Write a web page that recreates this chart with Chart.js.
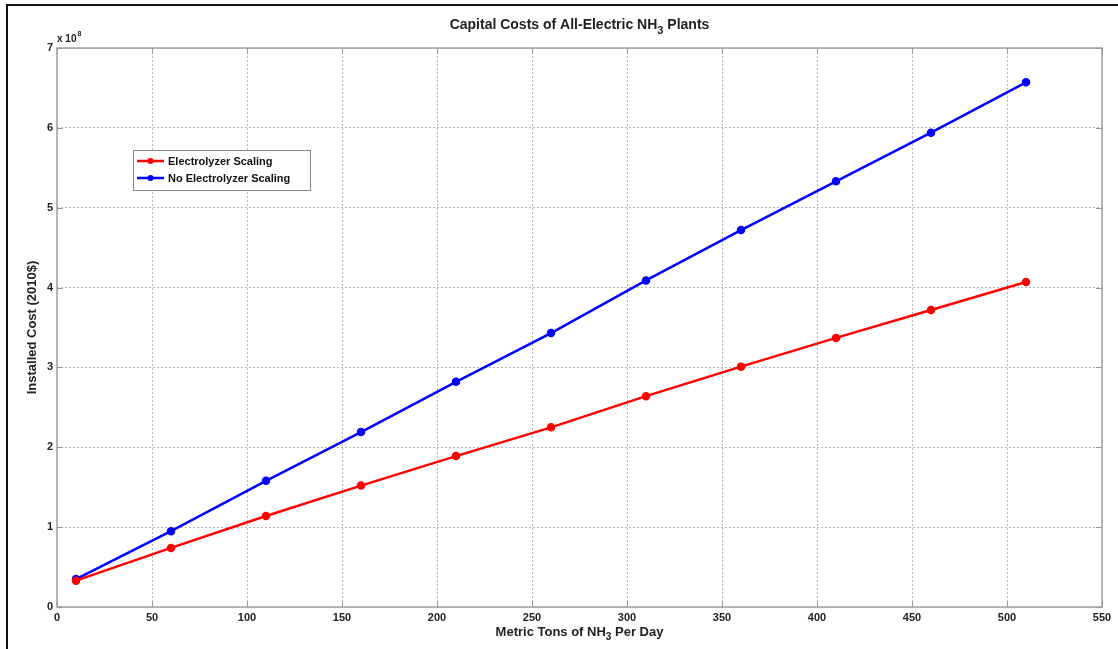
<!DOCTYPE html>
<html>
<head>
<meta charset="utf-8">
<script src="https://cdn.jsdelivr.net/npm/chart.js@4.4.1/dist/chart.umd.min.js"></script>
<style>
  html, body { margin: 0; padding: 0; background: #fff; }
  #wrap { position: relative; width: 1118px; height: 649px; }
  #frame { position: absolute; left: 6px; top: 4px; right: 0; bottom: 0;
           border-top: 2px solid #111; border-left: 2px solid #111; pointer-events: none; }
</style>
</head>
<body>
<div id="wrap">
  <canvas id="costChart" width="1118" height="649"></canvas>
  <div id="frame"></div>
</div>
<script>
// Dữ liệu (đơn vị: x 10^8 USD 2010)
const tonsPerDay = [10, 60, 110, 160, 210, 260, 310, 360, 410, 460, 510];
const electrolyzerScaling = [0.33, 0.74, 1.14, 1.52, 1.89, 2.25, 2.64, 3.01, 3.37, 3.72, 4.07];
const noElectrolyzerScaling = [0.35, 0.95, 1.58, 2.19, 2.82, 3.43, 4.09, 4.72, 5.33, 5.94, 6.57];
const xTicks = [0, 50, 100, 150, 200, 250, 300, 350, 400, 450, 500, 550];
const yTicks = [0, 1, 2, 3, 4, 5, 6, 7];
const seriesNames = ["Electrolyzer Scaling", "No Electrolyzer Scaling"];
const seriesColors = ["#ff0000", "#0000ff"];

const FONT = "Liberation Sans, Arial, sans-serif";

// vẽ chữ có chỉ số dưới (NH3)
function drawSubText(ctx, parts, cx, y, size) {
    const subSize = Math.round(size * 0.75);
    let total = 0;
    parts.forEach(p => {
        ctx.font = `bold ${p.sub ? subSize : size}px ${FONT}`;
        total += ctx.measureText(p.t).width;
    });
    let x = cx - total / 2;
    ctx.textAlign = "left";
    ctx.textBaseline = "middle";
    parts.forEach(p => {
        ctx.font = `bold ${p.sub ? subSize : size}px ${FONT}`;
        ctx.fillText(p.t, x, p.sub ? y + size * 0.4 : y);
        x += ctx.measureText(p.t).width;
    });
}

const matlabStyle = {
    id: "matlabStyle",
    afterDraw(chart) {
        const { ctx, chartArea: a, scales } = chart;
        ctx.save();
        // khung trục
        ctx.strokeStyle = "#a0a0a0";
        ctx.lineWidth = 1.5;
        ctx.strokeRect(a.left, a.top, a.right - a.left, a.bottom - a.top);
        // vạch chia hướng vào trong
        ctx.lineWidth = 1;
        ctx.strokeStyle = "#999";
        ctx.beginPath();
        xTicks.forEach(v => {
            const px = Math.round(scales.x.getPixelForValue(v)) + 0.5;
            ctx.moveTo(px, a.bottom); ctx.lineTo(px, a.bottom - 6);
            ctx.moveTo(px, a.top); ctx.lineTo(px, a.top + 6);
        });
        yTicks.forEach(v => {
            const py = Math.round(scales.y.getPixelForValue(v)) + 0.5;
            ctx.moveTo(a.left, py); ctx.lineTo(a.left + 6, py);
            ctx.moveTo(a.right, py); ctx.lineTo(a.right - 6, py);
        });
        ctx.stroke();

        ctx.fillStyle = "#222";
        // tiêu đề
        drawSubText(ctx, [{ t: "Capital Costs of All-Electric NH" }, { t: "3", sub: true }, { t: " Plants" }],
            (a.left + a.right) / 2, 25, 14);
        // nhãn trục x
        drawSubText(ctx, [{ t: "Metric Tons of NH" }, { t: "3", sub: true }, { t: " Per Day" }],
            (a.left + a.right) / 2, 632, 13);
        // nhãn trục y
        ctx.save();
        ctx.translate(32, (a.top + a.bottom) / 2);
        ctx.rotate(-Math.PI / 2);
        ctx.font = `bold 13px ${FONT}`;
        ctx.textAlign = "center";
        ctx.textBaseline = "middle";
        ctx.fillText("Installed Cost (2010$)", 0, 0);
        ctx.restore();
        // hệ số x 10^8
        ctx.font = `bold 10px ${FONT}`;
        ctx.textAlign = "left";
        ctx.textBaseline = "middle";
        ctx.fillText("x 10", a.left, a.top - 9);
        const w = ctx.measureText("x 10").width;
        ctx.font = `bold 7px ${FONT}`;
        ctx.fillText("8", a.left + w + 1, a.top - 14);

        // chú thích
        const lx = 133, ly = 150, lw = 177, lh = 40;
        ctx.fillStyle = "#fff";
        ctx.fillRect(lx, ly, lw, lh);
        ctx.strokeStyle = "#888";
        ctx.lineWidth = 1;
        ctx.strokeRect(lx + 0.5, ly + 0.5, lw, lh);
        chart.data.datasets.forEach((ds, i) => {
            const y = ly + 11 + i * 17;
            ctx.strokeStyle = ds.borderColor;
            ctx.fillStyle = ds.borderColor;
            ctx.lineWidth = 2.5;
            ctx.beginPath();
            ctx.moveTo(lx + 4, y); ctx.lineTo(lx + 31, y);
            ctx.stroke();
            ctx.beginPath();
            ctx.arc(lx + 17.5, y, 3, 0, Math.PI * 2);
            ctx.fill();
            ctx.fillStyle = "#111";
            ctx.font = `bold 11px ${FONT}`;
            ctx.textAlign = "left";
            ctx.textBaseline = "middle";
            ctx.fillText(ds.label, lx + 35, y + 0.5);
        });
        ctx.restore();
    }
};

const datasets = [electrolyzerScaling, noElectrolyzerScaling].map((vals, i) => ({
    label: seriesNames[i],
    data: tonsPerDay.map((t, j) => ({ x: t, y: vals[j] })),
    borderColor: seriesColors[i],
    backgroundColor: seriesColors[i],
    borderWidth: 2.5,
    pointRadius: 3,
    pointHoverRadius: 3,
    tension: 0
}));

const gridOpts = { color: "#b4b4b4", lineWidth: 1, drawTicks: false };
const borderOpts = { display: false, dash: [2, 2] };
const tickFont = { family: FONT, size: 11, weight: "bold" };

new Chart(document.getElementById("costChart").getContext("2d"), {
    type: "line",
    data: { datasets },
    options: {
        responsive: false,
        animation: false,
        devicePixelRatio: 1,
        layout: { padding: { top: 48, right: 16, left: 0, bottom: 0 } },
        plugins: { legend: { display: false }, title: { display: false }, tooltip: { enabled: false } },
        scales: {
            x: {
                type: "linear", min: 0, max: 550,
                afterBuildTicks: s => { s.ticks = xTicks.map(v => ({ value: v })); },
                afterFit: s => { s.height = 42; },
                grid: gridOpts, border: borderOpts,
                ticks: { font: tickFont, color: "#222", padding: 4, maxRotation: 0, autoSkip: false }
            },
            y: {
                type: "linear", min: 0, max: 7,
                afterBuildTicks: s => { s.ticks = yTicks.map(v => ({ value: v })); },
                afterFit: s => { s.width = 57; },
                grid: gridOpts, border: borderOpts,
                ticks: { font: tickFont, color: "#222", padding: 4, autoSkip: false }
            }
        }
    },
    plugins: [matlabStyle]
});
</script>
</body>
</html>
